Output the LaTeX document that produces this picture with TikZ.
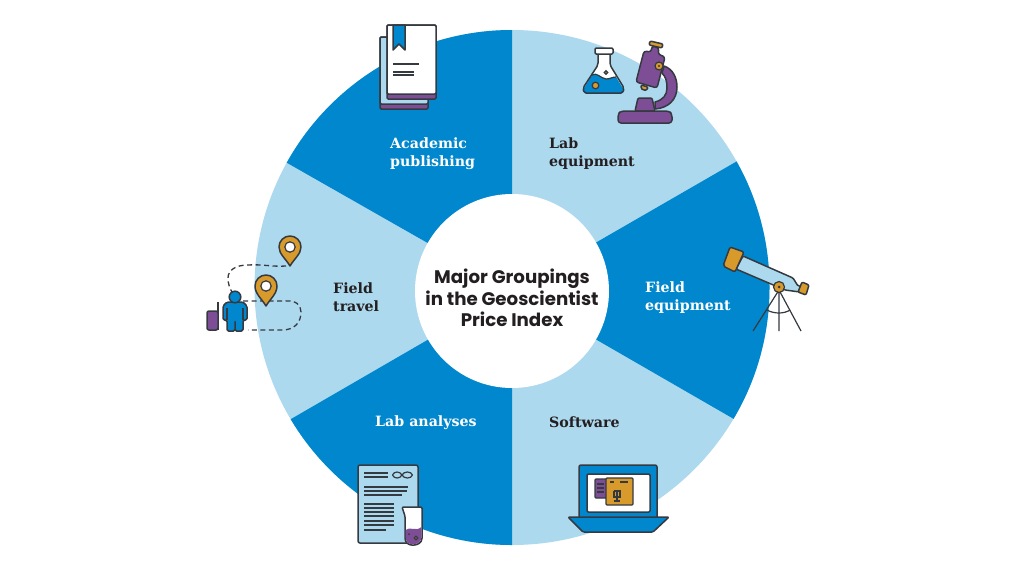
\documentclass[tikz,border=0pt]{standalone}
\usepackage{fontspec}
\setmainfont{DejaVu Serif}
\newfontfamily\headfont{Poppins}
\definecolor{wdark}{HTML}{0087CD}
\definecolor{wlight}{HTML}{ADD9EF}
\definecolor{ipurple}{HTML}{7D4E96}
\definecolor{iorange}{HTML}{D99A2C}
\definecolor{iline}{HTML}{353A40}
\definecolor{itext}{HTML}{231F20}
\tikzset{
  icon/.style={draw=iline,line width=1.5pt,line join=round,rounded corners=1.2pt},
  thin line/.style={draw=iline,line width=1.2pt},
  route/.style={draw=iline,line width=1.3pt,dash pattern=on 5pt off 3.5pt},
  wedgelabel/.style={align=left,anchor=west,inner sep=0pt,font=\fontsize{14.2}{18}\selectfont\bfseries,text=white},
  darklabel/.style={wedgelabel,text=itext},
}
\begin{document}
\begin{tikzpicture}[x=1pt,y=-1pt]
\useasboundingbox (0,0) rectangle (1024,576);
\fill[white] (0,0) rectangle (1024,576);
% wheel
\fill[wlight] (512,287.5) circle[radius=257.5pt];
\begin{scope}
\clip (512,287.5) circle[radius=257.5pt];
\fill[wdark] (512,291) -- (512,0) -- (1,0) -- cycle;
\fill[wdark] (512,291) -- (1032,-9) -- (1032,591) -- cycle;
\fill[wdark] (512,291) -- (512,576) -- (20,576) -- cycle;
\end{scope}
\node[circle,fill=white,minimum size=194pt,inner sep=0pt] (hub) at (512,291) {};
\node[align=center,inner sep=0pt,text=itext,font=\headfont\fontsize{18.2}{21.7}\selectfont\bfseries] (title) at (512,298) {Major Groupings\\in the Geoscientist\\Price Index};
% labels
\node[wedgelabel] (acad) at (390,153.5) {Academic\\publishing};
\node[darklabel] (labeq) at (549,153.5) {Lab\\equipment};
\node[wedgelabel] (fieldeq) at (645,298) {Field\\equipment};
\node[darklabel] (soft) at (549,422.5) {Software};
\node[wedgelabel] (labana) at (375,422.5) {Lab analyses};
\node[darklabel] (travel) at (333,297) {Field\\travel};
% books
\draw[icon,fill=ipurple] (380,37) rectangle (428,109);
\draw[icon,fill=wlight] (380,37) -- (428,37) -- (428,104) -- (380,104) -- cycle;
\draw[icon,fill=ipurple] (387,25) rectangle (436,99);
\draw[icon,fill=white] (387,25) -- (436,25) -- (436,94) -- (387,94) -- cycle;
\draw[icon,fill=wdark,rounded corners=0pt] (393,25) -- (405,25) -- (405,50) -- (399,44) -- (393,50) -- cycle;
\draw[thin line] (393,64) -- (419,64) (393,72) -- (414,72) (393,75) -- (414,75);
% flask
\fill[white] (598,53) -- (610,53) -- (610,65) -- (624,90) -- (584,93) -- (583,90) -- (598,65) -- cycle;
\fill[wdark] (592,75) .. controls (597,72) and (600,78) .. (606,79) .. controls (610,79) and (612,77) .. (616,77) -- (624,90) -- (623,93) -- (584,93) -- (583,90) -- cycle;
\draw[icon,rounded corners=2pt] (598,54) -- (598,65) -- (583,88) -- (584,93) -- (623,93) -- (624,88) -- (610,65) -- (610,54);
\draw[icon,fill=white] (595,48) rectangle (613,54);
\draw[thin line] (592,75) .. controls (597,72) and (600,78) .. (606,79) .. controls (610,79) and (612,77) .. (616,77);
\draw[thin line,fill=iorange] (595.5,85.5) circle[radius=3.3pt];
\draw[thin line,fill=iorange] (606,72.5) circle[radius=1.8pt];
% microscope
\draw[icon,fill=ipurple,rounded corners=0pt] (655,102) .. controls (663,100) and (667,95) .. (667,88) .. controls (667,82) and (666,77) .. (662,73) -- (664,66) .. controls (673,69) and (677,78) .. (677,87) .. controls (677,100) and (668,108) .. (655,109) -- cycle;
\draw[icon,fill=ipurple] (635,111) -- (638,98) -- (652,98) -- (655,111) -- cycle;
\draw[icon,fill=ipurple,rounded corners=3pt] (618,123) -- (618,114) -- (621,111) -- (669,111) -- (672,114) -- (672,123) -- cycle;
\draw[icon,fill=iorange] (641,85) -- (648,87) -- (647,90) -- (643,90) -- (641,88) -- cycle;
\draw[icon,fill=ipurple,rounded corners=2.5pt] (652,46) -- (659,48) -- (658,54) -- (665,57) -- (657,88) -- (636,82) -- (644,51) -- (651,52) -- cycle;
\draw[icon,fill=iorange] (650,41) -- (663,44) -- (662,48) -- (649,45) -- cycle;
\draw[thin line,fill=iorange] (659,66) circle[radius=4pt];
\fill[iline] (659,66) circle[radius=1.2pt];
% telescope
\draw[thin line] (779,290) -- (753,331) (779,290) -- (779,331) (779,290) -- (801,331);
\draw[thin line] (767,310) .. controls (774,314) and (784,314) .. (790,310);
\draw[icon,fill=wlight] (743,256) -- (793,278) -- (798,286) -- (802,286) -- (800,292) -- (785,290) -- (736,269) -- cycle;
\draw[icon,fill=iorange,rounded corners=2pt] (730,247) -- (744,252) -- (735,272) -- (723,266) -- cycle;
\draw[icon,fill=iorange] (802,282) -- (809,285) -- (806,295) -- (798,292) -- cycle;
\draw[thin line,fill=iorange] (779,287) circle[radius=5.5pt];
\fill[iline] (779,287) circle[radius=1.5pt];
% laptop
\draw[icon,fill=wdark,rounded corners=2pt] (579,518) -- (579,465) -- (657,465) -- (657,518);
\draw[icon,fill=white] (587,474) rectangle (650,512);
\draw[thin line,fill=ipurple,rounded corners=1pt] (595,479) rectangle (608,498);
\draw[thin line,draw=iline] (597,484) -- (604,484) (597,488) -- (604,488) (597,492) -- (604,492);
\draw[thin line,fill=iorange,rounded corners=1pt] (606,478) rectangle (633,505);
\draw[thin line] (610,482) -- (614,482) (620,482) -- (628,482);
\draw[thin line] (614,491) -- (620,491) -- (620,497) -- (614,497) -- (614,491) (617,491) -- (617,501) (614,501) -- (620,501);
\draw[icon,fill=wdark] (568,517) -- (669,517) -- (653,532) -- (583,532) -- cycle;
% document
\draw[icon,fill=wlight,rounded corners=2pt] (358,465) rectangle (418,543);
\draw[thin line] (364,473) -- (388,473) (364,477) -- (388,477);
\draw[thin line] (392.5,475) .. controls (394,471) and (400,471) .. (402,475) .. controls (404,479) and (411,479) .. (412.5,475) (392.5,475) .. controls (394,479) and (400,479) .. (402,475) .. controls (404,471) and (411,471) .. (412.5,475);
\draw[thin line] (364,487) -- (408,487) (364,491) -- (407,491) (364,495) -- (402,495);
\draw[thin line] (364,504) -- (394,504) (364,508) -- (394,508) (364,512) -- (394,512) (364,516) -- (394,516) (364,521) -- (394,521) (364,525) -- (394,525) (364,530) -- (386,530);
\draw[icon,fill=white] (402,507) -- (422,507) -- (422,537) .. controls (422,543) and (417,545) .. (413,545) .. controls (409,545) and (405,543) .. (405,537) -- (405,516) -- cycle;
\fill[ipurple] (405.6,530) .. controls (410,526) and (416,532) .. (421.4,527) -- (421.4,537) .. controls (421.4,542) and (417,544.4) .. (413,544.4) .. controls (409,544.4) and (405.6,542) .. (405.6,537) -- cycle;
\draw[thin line,fill=iorange] (416,538) circle[radius=1.8pt];
\fill[iline] (409,534) circle[radius=1pt];
% travel
\draw[route] (286,266) .. controls (272,267) and (262,264) .. (248,265) .. controls (236,265) and (228,270) .. (228,278) .. controls (228,284) and (230,289) .. (232,292);
\draw[route] (243,301) -- (285,301) .. controls (296,300) and (301,305) .. (301,312) .. controls (301,322) and (295,330) .. (282,330) -- (248,330);
\draw[icon,fill=iorange,rounded corners=0pt] (290,266) .. controls (286,259) and (279,254) .. (279,247) arc[start angle=180,end angle=0,radius=11pt] .. controls (301,254) and (294,259) .. (290,266) -- cycle;
\draw[thin line,fill=white] (290,247) circle[radius=5.2pt];
\draw[icon,fill=iorange,rounded corners=0pt] (266,306) .. controls (262,299) and (255,294) .. (255,286) arc[start angle=180,end angle=0,radius=11pt] .. controls (277,294) and (270,299) .. (266,306) -- cycle;
\draw[thin line,fill=white] (266,286) circle[radius=5.2pt];
\draw[thin line] (218,302) -- (218,330);
\draw[icon,fill=ipurple,rounded corners=2pt] (207,311) rectangle (218,330);
\draw[icon,fill=wdark,rounded corners=1.5pt] (223,320) -- (223,306) -- (227,302) -- (243,302) -- (247,306) -- (247,320) -- (243,320) -- (243,331) -- (235,331) -- (235,320) -- (235,331) -- (227,331) -- (227,320) -- cycle;
\draw[thin line] (227,308) -- (227,320) (243,308) -- (243,320);
\draw[icon,fill=wdark] (235,297) circle[radius=5.8pt];
\end{tikzpicture}
\end{document}
